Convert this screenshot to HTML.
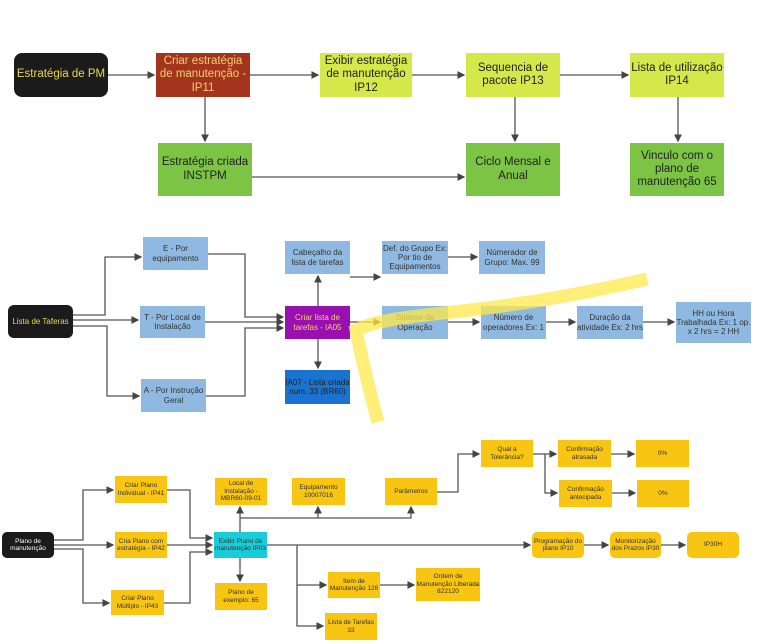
<!DOCTYPE html>
<html><head><meta charset="utf-8"><style>
body{margin:0;background:#fff;width:768px;height:644px;overflow:hidden;font-family:"Liberation Sans",sans-serif}
.b{position:absolute;display:flex;align-items:center;justify-content:center;text-align:center;box-sizing:border-box;line-height:1.15}
.s1{font-size:11.5px;color:#222}
.s2{font-size:8px;color:#333;background:#8fb9e0}
.s3{font-size:6.5px;color:#333;background:#f9c513}
</style></head><body>
<svg width="768" height="644" style="position:absolute;left:0;top:0">
<defs><marker id="a" markerWidth="6" markerHeight="6" refX="5" refY="3" orient="auto"><path d="M0,0L6,3L0,6z" fill="#444"/></marker></defs>
<g stroke="#555" stroke-width="1.3" fill="none" marker-end="url(#a)">
<path d="M108,75H154"/><path d="M250,75H318"/><path d="M412,75H464"/><path d="M560,75H628"/>
<path d="M205,97V141"/><path d="M515,97V141"/><path d="M678,97V141"/><path d="M252,177H464"/>
<path d="M73,315H105V257H141"/><path d="M73,320H138"/><path d="M73,326H107V396H139"/>
<path d="M208,254H245V317H283"/><path d="M205,322H283"/><path d="M206,396H245V328H283"/>
<path d="M318,306V276"/><path d="M318,339V368"/><path d="M350,277H380"/><path d="M448,257H477"/>
<path d="M350,322H380"/><path d="M448,322H479"/><path d="M546,322H575"/><path d="M643,322H674"/>
<path d="M54,540H83V490H113"/><path d="M54,545H113"/><path d="M54,549H83V603H109"/>
<path d="M167,490H190V538H212"/><path d="M167,545H212"/><path d="M164,603H190V552H212"/>
<path d="M240,532V507"/><path d="M240,518H318V507"/><path d="M318,518H411V507"/>
<path d="M240,558V581"/><path d="M267,545H297V585H326"/><path d="M297,585V626H323"/>
<path d="M297,545H530"/><path d="M380,585H414"/>
<path d="M437,492H458V454H479"/><path d="M533,454H556"/><path d="M545,454V493H557"/>
<path d="M611,454H634"/><path d="M612,493H635"/><path d="M584,545H608"/><path d="M661,545H685"/>
</g>
</svg>
<div class="b s1" style="left:14px;top:53px;width:94px;height:44px;background:#1b1b1b;color:#e8d84a;border-radius:8px">Estratégia de PM</div>
<div class="b s1" style="left:156px;top:53px;width:94px;height:44px;background:#a3341e;color:#f3d070">Criar estratégia de manutenção - IP11</div>
<div class="b s1" style="left:320px;top:53px;width:92px;height:44px;background:#d4e84a">Exibir estratégia de manutenção IP12</div>
<div class="b s1" style="left:466px;top:53px;width:94px;height:44px;background:#d4e84a">Sequencia de pacote IP13</div>
<div class="b s1" style="left:630px;top:53px;width:94px;height:44px;background:#d4e84a">Lista de utilização IP14</div>
<div class="b s1" style="left:158px;top:143px;width:94px;height:53px;background:#7cc444">Estratégia criada INSTPM</div>
<div class="b s1" style="left:466px;top:143px;width:94px;height:53px;background:#7cc444">Ciclo Mensal e Anual</div>
<div class="b s1" style="left:630px;top:143px;width:94px;height:53px;background:#7cc444">Vinculo com o plano de manutenção 65</div>

<div class="b s2" style="left:8px;top:305px;width:65px;height:33px;background:#1b1b1b;color:#e8d84a;border-radius:6px">Lista de Taferas</div>
<div class="b s2" style="left:143px;top:237px;width:65px;height:33px">E - Por equipamento</div>
<div class="b s2" style="left:140px;top:306px;width:65px;height:32px">T - Por Local de Instalação</div>
<div class="b s2" style="left:141px;top:379px;width:65px;height:33px">A - Por Instrução Geral</div>
<div class="b s2" style="left:285px;top:306px;width:65px;height:33px;background:#9a0fb0;color:#f3d070">Criar lista de tarefas - IA05</div>
<div class="b s2" style="left:285px;top:241px;width:65px;height:33px">Cabeçalho da lista de tarefas</div>
<div class="b s2" style="left:285px;top:370px;width:65px;height:34px;background:#1a73d0;color:#222">IA07 - Lista criada num. 33 (BR60)</div>
<div class="b s2" style="left:382px;top:241px;width:66px;height:33px">Def. do Grupo Ex: Por tio de Equipamentos</div>
<div class="b s2" style="left:479px;top:241px;width:66px;height:33px">Númerador de Grupo: Max. 99</div>
<div class="b s2" style="left:382px;top:306px;width:66px;height:33px">Síntese de Operação</div>
<div class="b s2" style="left:481px;top:306px;width:65px;height:33px">Número de operadores Ex: 1</div>
<div class="b s2" style="left:577px;top:306px;width:66px;height:33px">Duração da atividade Ex: 2 hrs</div>
<div class="b s2" style="left:676px;top:302px;width:75px;height:41px">HH ou Hora Trabalhada Ex: 1 op. x 2 hrs = 2 HH</div>
<svg width="768" height="644" style="position:absolute;left:0;top:0;pointer-events:none"><path d="M378,422C368,385 360,350 356,330C380,318 430,315 470,310C540,302 600,290 647,279" stroke="#ffe84a" stroke-opacity="0.75" stroke-width="13" fill="none"/></svg>

<div class="b s3" style="left:2px;top:532px;width:52px;height:26px;background:#1b1b1b;color:#fff;border-radius:5px">Plano de manutenção</div>
<div class="b s3" style="left:115px;top:476px;width:52px;height:27px">Criar Plano Individual - IP41</div>
<div class="b s3" style="left:115px;top:532px;width:52px;height:26px">Cria Plano com estratégia - IP42</div>
<div class="b s3" style="left:111px;top:590px;width:53px;height:25px">Criar Plano Múltiplo - IP43</div>
<div class="b s3" style="left:214px;top:532px;width:53px;height:26px;background:#19ccd8">Exibir Plano de manutenção IP03</div>
<div class="b s3" style="left:215px;top:478px;width:52px;height:27px">Local de Instalação - MBR60-09-01</div>
<div class="b s3" style="left:292px;top:478px;width:53px;height:27px">Equipamento 10007016</div>
<div class="b s3" style="left:215px;top:583px;width:52px;height:27px">Plano de exemplo: 65</div>
<div class="b s3" style="left:328px;top:572px;width:52px;height:26px">Item de Manutenção 126</div>
<div class="b s3" style="left:325px;top:613px;width:52px;height:27px">Lista de Tarefas 33</div>
<div class="b s3" style="left:385px;top:478px;width:52px;height:27px">Parâmetros</div>
<div class="b s3" style="left:481px;top:440px;width:52px;height:27px">Qual a Tolerância?</div>
<div class="b s3" style="left:558px;top:440px;width:53px;height:27px">Confirmação atrasada</div>
<div class="b s3" style="left:636px;top:440px;width:53px;height:27px">0%</div>
<div class="b s3" style="left:559px;top:480px;width:53px;height:27px">Confirmação antecipada</div>
<div class="b s3" style="left:637px;top:480px;width:52px;height:27px">0%</div>
<div class="b s3" style="left:532px;top:532px;width:52px;height:26px;border-radius:5px">Programação do plano IP10</div>
<div class="b s3" style="left:610px;top:532px;width:51px;height:26px;border-radius:5px">Monitorização dos Prazos IP30</div>
<div class="b s3" style="left:687px;top:532px;width:52px;height:26px;border-radius:5px">IP30H</div>
<div class="b s3" style="left:416px;top:568px;width:64px;height:33px">Ordem de Manutenção Liberada 822120</div>
</body></html>
